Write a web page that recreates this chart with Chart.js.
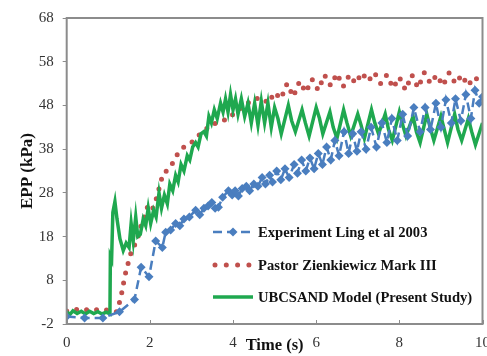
<!DOCTYPE html>
<html>
<head>
<meta charset="utf-8">
<script src="https://cdn.jsdelivr.net/npm/chart.js@4/dist/chart.umd.min.js"></script>
<style>
  html, body { margin: 0; padding: 0; background: #fff; }
  #wrap { width: 487px; height: 356px; }
</style>
</head>
<body>
<div id="wrap"><canvas id="epp-chart" width="487" height="356"></canvas></div>
<script>
// tick labels
const xTicks = [0, 2, 4, 6, 8, 10];
const yTicks = [-2, 8, 18, 28, 38, 48, 58, 68];

// Experiment Ling et al 2003
const expTime = [0, 0.43, 0.87, 1.27, 1.63, 1.79, 1.98, 2.14, 2.3, 2.38, 2.5, 2.62, 2.72, 2.82, 2.95, 3.1, 3.2, 3.3, 3.4, 3.49,
  3.57, 3.65, 3.75, 3.89, 3.98, 4.05, 4.13, 4.22, 4.32, 4.4, 4.5, 4.6, 4.7, 4.78, 4.88, 4.95, 5.05, 5.15, 5.25, 5.35,
  5.47, 5.55, 5.65, 5.75, 5.85, 5.95, 6.05, 6.15, 6.25, 6.35, 6.45, 6.55, 6.67, 6.78, 6.88, 6.98, 7.08, 7.2, 7.32, 7.45,
  7.58, 7.7, 7.82, 7.95, 8.08, 8.2, 8.35, 8.5, 8.62, 8.75, 8.88, 9.0, 9.12, 9.25, 9.35, 9.48, 9.6, 9.72, 9.82, 9.92, 10];
const expEpp = [-0.3, -0.6, -0.6, 0.8, 3.6, 11, 8.8, 17, 15.5, 19, 19.5, 21, 20.5, 22, 22.5, 24, 23, 24.5, 25, 25.8,
  24.5, 24.7, 27, 28.5, 27.5, 28.5, 27.3, 29, 29.5, 28.5, 30, 29.5, 31.5, 30, 32, 30.5, 33, 31, 33.5, 31.5,
  34.5, 32.5, 35.5, 33, 36, 33.5, 37, 34.5, 38.5, 35.5, 40, 36.5, 42, 37, 41.5, 37.5, 42, 38, 43, 38.5,
  44, 39.5, 45, 40, 46, 41, 47.5, 42, 47.5, 42.5, 48.5, 43, 49.3, 44, 49.5, 44.5, 50.5, 45, 51.5, 48.5, 50];

// Pastor Zienkiewicz Mark III
const pzTime = [0, 0.3, 0.6, 0.9, 1.1, 1.2, 1.3, 1.35, 1.4, 1.45, 1.52, 1.58, 1.68, 1.75, 1.85, 1.95, 2.05, 2.15, 2.25, 2.32,
  2.4, 2.5, 2.6, 2.7, 2.85, 3.0, 3.15, 3.3, 3.45, 3.6, 3.75, 3.9, 4.05, 4.2, 4.35, 4.5, 4.7, 4.85, 5.0, 5.15,
  5.3, 5.45, 5.6, 5.75, 5.9, 6.05, 6.2, 6.35, 6.5, 6.65, 6.8, 6.95, 7.1, 7.25, 7.4, 7.55, 7.7, 7.85, 8.0, 8.15,
  8.3, 8.45, 8.6, 8.75, 8.9, 9.05, 9.2, 9.35, 9.5, 9.65, 9.8, 10];
const pzEpp = [1.0, 1.4, 1.2, 1.3, 1.0, 0.8, 3.9, 6.5, 9, 11, 13.3, 15.6, 16.5, 19.4, 22, 25, 24, 26.5, 30, 32.5,
  33, 34, 35.7, 37.5, 38.7, 39.5, 41, 42, 43.5, 44, 44.5, 45, 46.5, 47.5, 48.5, 49.5, 49.7, 48.5, 51, 49.5,
  53, 50, 53.5, 51, 54, 51.5, 55, 52.5, 55.3, 52.3, 55, 53, 55.5, 53.5, 55.5, 53, 55, 52, 54.5, 51.5,
  55, 52, 55.5, 53, 55, 52.5, 55.5, 53, 55, 52.5, 54.5, 53];

// UBCSAND Model (Present Study)
const ubcTime = [0, 0.08, 0.15, 0.25, 0.35, 0.45, 0.55, 0.65, 0.75, 0.85, 0.95, 1.04, 1.05, 1.08, 1.11, 1.16, 1.21, 1.28, 1.36, 1.43,
  1.5, 1.55, 1.6, 1.66, 1.71, 1.77, 1.84, 1.9, 1.96, 2.02, 2.09, 2.15, 2.22, 2.28, 2.35, 2.42, 2.48, 2.55, 2.62, 2.68,
  2.75, 2.82, 2.9, 2.96, 3.03, 3.1, 3.16, 3.23, 3.3, 3.36, 3.42, 3.48, 3.55, 3.62, 3.7, 3.76, 3.82, 3.88, 3.94, 4.0,
  4.06, 4.12, 4.2, 4.28, 4.36, 4.44, 4.52, 4.6, 4.68, 4.76, 4.84, 4.92, 5.0, 5.08, 5.16, 5.33, 5.41, 5.5, 5.66, 5.74,
  5.83, 6.0, 6.08, 6.16, 6.33, 6.41, 6.5, 6.66, 6.74, 6.83, 7.0, 7.08, 7.16, 7.33, 7.41, 7.5, 7.66, 7.74, 7.83, 8.0,
  8.08, 8.16, 8.33, 8.41, 8.5, 8.66, 8.74, 8.83, 9.0, 9.08, 9.16, 9.33, 9.41, 9.5, 9.66, 9.74, 9.83, 10];
const ubcEpp = [0.8, 0.2, 1.0, 0.4, 0.9, 0.3, 0.9, 0.4, 0.8, 0.3, 0.7, 0.3, 13.5, 12.8, 23.5, 26, 22, 17.5, 14.8, 16.5,
  15.5, 21, 17, 22.5, 18, 18.5, 22, 20.5, 24.5, 21, 24, 22.5, 28, 24.5, 27.5, 25.5, 30, 28.5, 32, 30.5,
  34.5, 33, 36.5, 35.5, 38.5, 39.5, 38.5, 41.5, 42, 41, 45.5, 44, 47, 45, 48.5, 46.5, 49.5, 46.5, 50.5, 47,
  49.5, 46, 49.5, 45.5, 48.5, 44, 48.5, 43.5, 49, 44, 48.5, 43, 47.5, 45, 41.5, 48, 44.5, 42, 47, 44,
  41, 47.5, 45, 41.5, 46.5, 43, 40.5, 47, 44, 41, 46, 43.5, 40.5, 47, 44, 41.5, 46, 42.5, 40, 46.5,
  43.5, 41, 45.5, 42, 39.5, 46, 43, 40, 45.5, 42.5, 39.5, 46, 42.5, 40, 45, 42, 39, 44];

const toPoints = (xs, ys) => xs.map((x, i) => ({ x, y: ys[i] }));

const serif = "'Liberation Serif', 'Times New Roman', serif";
const frameColor = '#8c8c8c';

// bingkai abu-abu + tick kecil ke dalam di sumbu x
const framePlugin = {
  id: 'frame',
  afterDatasetsDraw(chart) {
    const { ctx, chartArea: a } = chart;
    const xs = chart.scales.x;
    ctx.save();
    ctx.strokeStyle = frameColor;
    ctx.lineWidth = 2;
    ctx.strokeRect(a.left, a.top, a.right - a.left, a.bottom - a.top);
    ctx.lineWidth = 1;
    xTicks.forEach((v) => {
      const px = Math.round(xs.getPixelForValue(v)) + 0.5;
      ctx.beginPath();
      ctx.moveTo(px, a.bottom);
      ctx.lineTo(px, a.bottom - 4);
      ctx.stroke();
    });
    ctx.restore();
  },
};

// legenda di dalam plot, kanan bawah
const insetLegend = {
  id: 'insetLegend',
  afterDraw(chart) {
    const { ctx } = chart;
    const rows = [232, 265, 297];
    const x0 = 213, x1 = 253;
    ctx.save();
    chart.data.datasets.forEach((ds, i) => {
      const y = rows[i];
      ctx.strokeStyle = ds.borderColor;
      ctx.lineWidth = ds.borderWidth;
      ctx.lineCap = ds.borderCapStyle || 'butt';
      ctx.setLineDash(ds.legendDash || ds.borderDash || []);
      ctx.beginPath();
      ctx.moveTo(x0 + (ds.legendInset || 0), y);
      ctx.lineTo(x1, y);
      ctx.stroke();
      ctx.setLineDash([]);
      if (ds.pointRadius > 0) {
        const r = ds.pointRadius;
        const cx = (x0 + x1) / 2;
        ctx.fillStyle = ds.pointBackgroundColor;
        ctx.beginPath();
        ctx.moveTo(cx, y - r);
        ctx.lineTo(cx + r, y);
        ctx.lineTo(cx, y + r);
        ctx.lineTo(cx - r, y);
        ctx.closePath();
        ctx.fill();
      }
      ctx.fillStyle = '#111';
      ctx.font = `bold 14.6px ${serif}`;
      ctx.textBaseline = 'middle';
      ctx.textAlign = 'left';
      ctx.fillText(ds.label, x1 + 5, y + 1);
    });
    ctx.restore();
  },
};

new Chart(document.getElementById('epp-chart'), {
  type: 'line',
  data: {
    datasets: [
      {
        label: 'Experiment Ling et al 2003',
        data: toPoints(expTime, expEpp),
        borderColor: '#4a7ebf',
        backgroundColor: '#4a7ebf',
        borderWidth: 2.5,
        borderDash: [9, 5],
        legendDash: [9, 5],
        pointStyle: 'rectRot',
        pointRadius: 4.5,
        pointBackgroundColor: '#4a7ebf',
        pointBorderWidth: 0,
        tension: 0,
        order: 0,
      },
      {
        label: 'Pastor Zienkiewicz Mark III',
        data: toPoints(pzTime, pzEpp),
        borderColor: '#c0504d',
        borderWidth: 5,
        borderDash: [0, 10],
        legendDash: [0, 11.3],
        legendInset: 2,
        borderCapStyle: 'round',
        pointRadius: 0,
        tension: 0,
        order: 2,
      },
      {
        label: 'UBCSAND Model (Present Study)',
        data: toPoints(ubcTime, ubcEpp),
        borderColor: '#1fa84f',
        borderWidth: 3.5,
        pointRadius: 0,
        tension: 0,
        order: 1,
      },
    ],
  },
  options: {
    responsive: false,
    animation: false,
    layout: { padding: { top: 16, right: 1, bottom: 0, left: 0 } },
    plugins: { legend: { display: false }, tooltip: { enabled: false } },
    scales: {
      x: {
        type: 'linear',
        min: 0,
        max: 10,
        afterBuildTicks: (s) => { s.ticks = xTicks.map((v) => ({ value: v })); },
        afterFit: (s) => { s.height = 32; s.paddingLeft = 0; s.paddingRight = 0; },
        ticks: { color: '#333', padding: 10, font: { family: serif, size: 15 } },
        grid: { drawOnChartArea: false, drawTicks: false },
        border: { display: false },
        title: {
          display: true,
          text: 'Time (s)',
          color: '#111',
          font: { family: serif, size: 16.5, weight: 'bold' },
          padding: { top: 0, bottom: 0 },
        },
      },
      y: {
        min: -2,
        max: 68,
        afterBuildTicks: (s) => { s.ticks = yTicks.map((v) => ({ value: v })); },
        afterFit: (s) => { s.width = 66.7; },
        ticks: { color: '#333', padding: 9, font: { family: serif, size: 15 } },
        grid: { drawOnChartArea: false, tickLength: 4, color: frameColor },
        border: { display: false },
        title: {
          display: true,
          text: 'EPP (kPa)',
          color: '#111',
          font: { family: serif, size: 17, weight: 'bold' },
          padding: { top: 17, bottom: 0 },
        },
      },
    },
  },
  plugins: [framePlugin, insetLegend],
});
</script>
</body>
</html>
